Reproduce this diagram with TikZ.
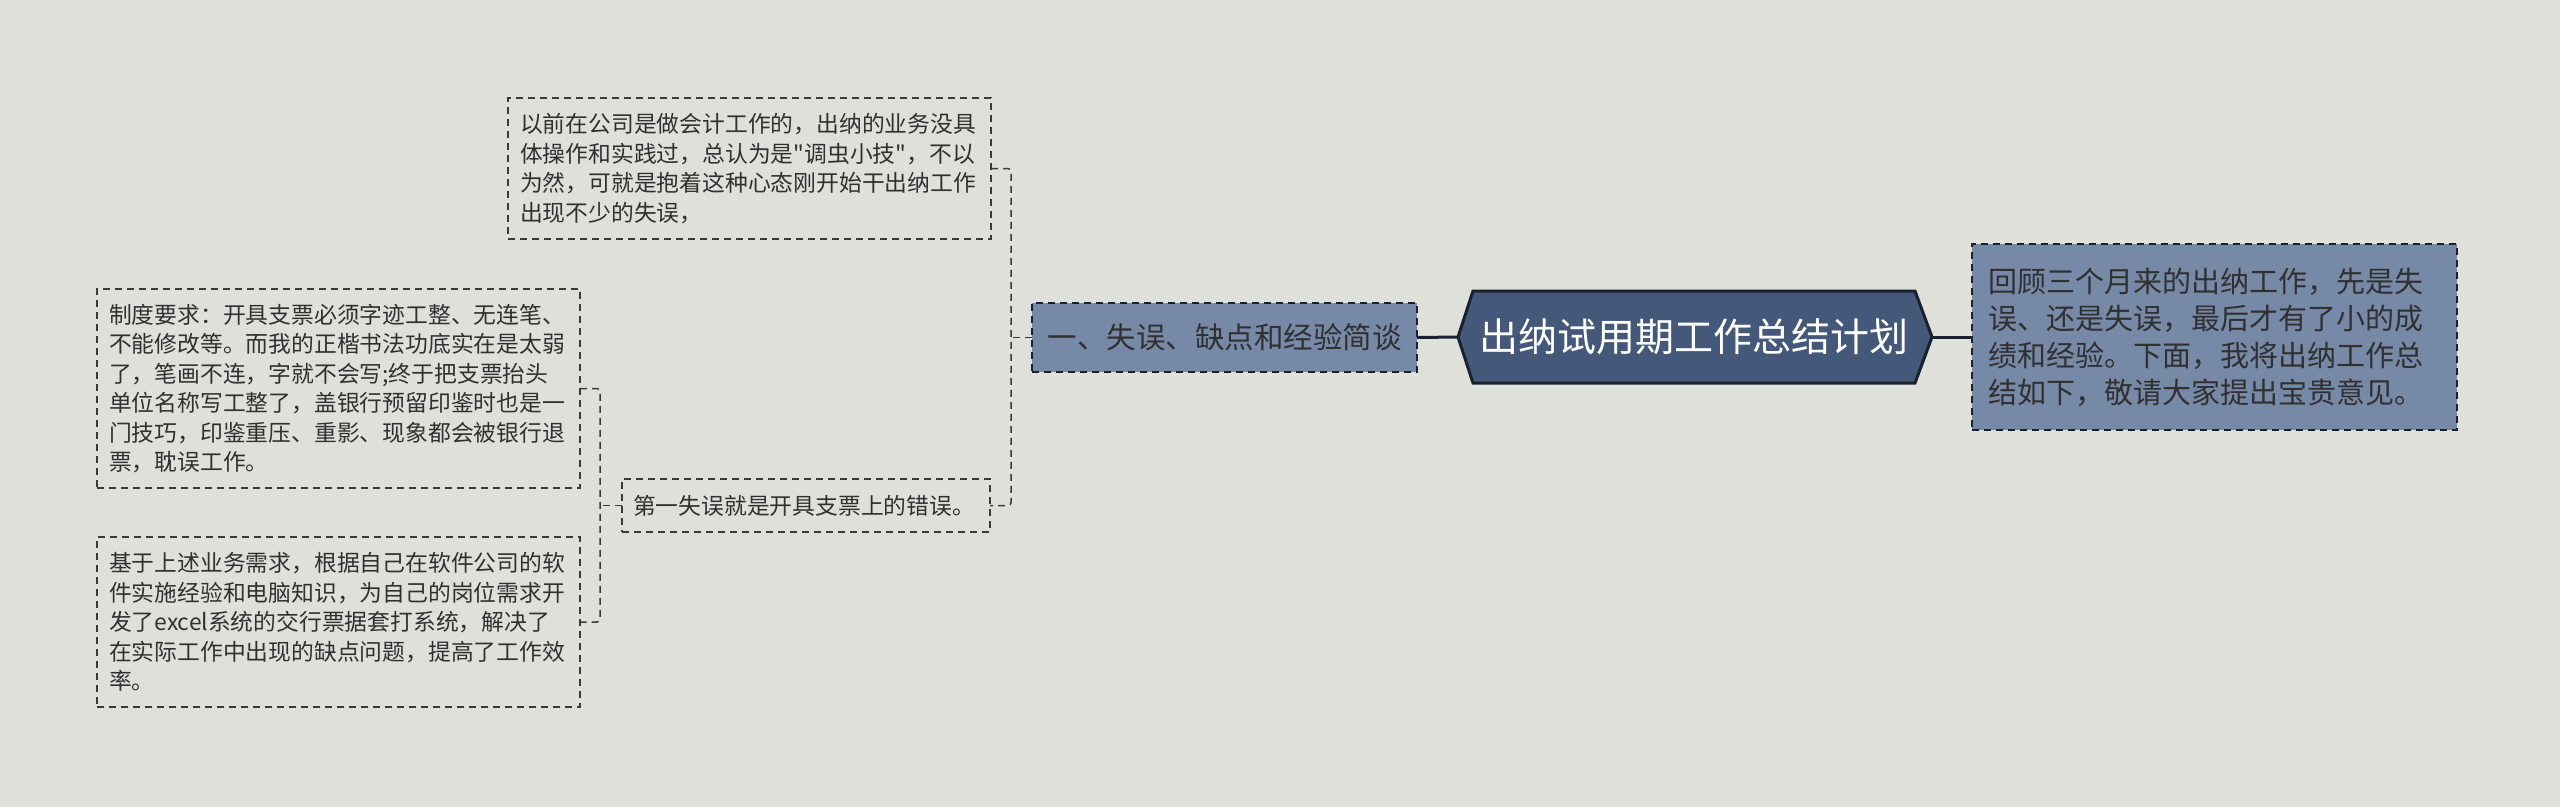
\documentclass[tikz,border=0pt]{standalone}
\usepackage{fontspec}
\newfontfamily\cjk{Noto Sans CJK SC}
\definecolor{bgc}{HTML}{E0E0DB}
\definecolor{linec}{HTML}{3A3A3A}
\definecolor{textc}{HTML}{303030}
\definecolor{branchfill}{HTML}{7689A6}
\definecolor{rootfill}{HTML}{445979}
\definecolor{darkline}{HTML}{19212E}
\begin{document}
\begin{tikzpicture}[x=1pt,y=-1pt,
  every node/.style={inner sep=0pt, outer sep=0pt},
  leaf/.style={draw=linec, line width=1.5pt, dash pattern=on 7pt off 5pt, fill=bgc, text=textc,
    anchor=north west, align=left, inner xsep=12pt,
    font=\cjk\fontsize{22.8}{29.5}\selectfont},
  branch/.style={draw=darkline, line width=1.6pt, dash pattern=on 7pt off 5pt, fill=branchfill, text=textc,
    anchor=north west},
  conn/.style={draw=linec, line width=1.5pt, dash pattern=on 7pt off 5pt, rounded corners=3pt},
  solidconn/.style={draw=darkline, line width=3pt}]
\fill[bgc] (0,0) rectangle (2560,807);
\useasboundingbox (0,0) rectangle (2560,807);

% leaves
\node[leaf, minimum width=483, minimum height=141, text width=459] (n1) at (508,98)
  {以前在公司是做会计工作的，出纳的业务没具\\体操作和实践过，总认为是"调虫小技"，不以\\为然，可就是抱着这种心态刚开始干出纳工作\\出现不少的失误，};
\node[leaf, minimum width=483, minimum height=199, text width=459] (n2) at (97,289)
  {制度要求：开具支票必须字迹工整、无连笔、\\不能修改等。而我的正楷书法功底实在是太弱\\了，笔画不连，字就不会写;终于把支票抬头\\单位名称写工整了，盖银行预留印鉴时也是一\\门技巧，印鉴重压、重影、现象都会被银行退\\票，耽误工作。};
\node[leaf, minimum width=483, minimum height=170, text width=459] (n3) at (97,537)
  {基于上述业务需求，根据自己在软件公司的软\\件实施经验和电脑知识，为自己的岗位需求开\\发了excel系统的交行票据套打系统，解决了\\在实际工作中出现的缺点问题，提高了工作效\\率。};
\node[leaf, minimum width=368, minimum height=53, inner xsep=11pt, text width=346] (n4) at (622,479)
  {第一失误就是开具支票上的错误。};

% branch
\node[branch, minimum width=385, minimum height=69, font=\cjk\fontsize{29.5}{36}\selectfont] (br) at (1032,303)
  {一、失误、缺点和经验简谈};

% root hexagon
\coordinate (hexL) at (1458,337);
\coordinate (hexR) at (1932,337);
\filldraw[fill=rootfill, draw=darkline, line width=3pt, line join=miter]
  (hexL) -- (1473,291) -- (1915,291) -- (hexR) -- (1915,383) -- (1473,383) -- cycle;
\node[text=white, font=\cjk\fontsize{39}{44}\selectfont, minimum width=442, minimum height=92] (root) at (1694,337)
  {出纳试用期工作总结计划};

% right box
\node[branch, minimum width=485, minimum height=186, align=left, inner xsep=16pt, text width=453,
  font=\cjk\fontsize{29}{37}\selectfont] (rb) at (1972,244)
  {回顾三个月来的出纳工作，先是失\\误、还是失误，最后才有了小的成\\绩和经验。下面，我将出纳工作总\\结如下，敬请大家提出宝贵意见。};

% junctions
\coordinate (j1) at (600,0);
\coordinate (j2) at (1011,0);

% connectors
\draw[conn] (n2.east) -- (n2.east -| j1) -- (n3.east -| j1) -- (n3.east);
\draw[conn] (n4.west) -- (n4.west -| j1);
\draw[conn] (n1.east) -- (n1.east -| j2) -- (n4.east -| j2) -- (n4.east);
\draw[conn] (br.west) -- (br.west -| j2);
\draw[solidconn] (br.east) -- (hexL);
\draw[solidconn] (hexR) -- (rb.west);
\end{tikzpicture}
\end{document}
